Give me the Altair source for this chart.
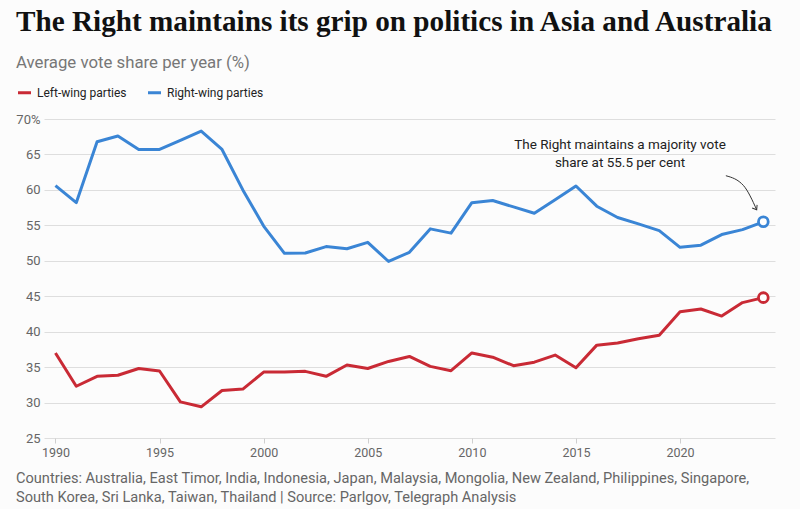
import altair as alt
import pandas as pd

years = list(range(1990, 2025))
left_wing = [37.0, 32.3, 33.7, 33.85, 34.8, 34.45, 30.1, 29.4, 31.7, 31.9,
             34.3, 34.3, 34.4, 33.7, 35.3, 34.8, 35.8, 36.5, 35.1, 34.5,
             37.0, 36.4, 35.2, 35.7, 36.7, 34.9, 38.1, 38.4, 39.0, 39.5,
             42.8, 43.2, 42.2, 44.1, 44.8]
right_wing = [60.6, 58.2, 66.8, 67.6, 65.7, 65.7, 67.0, 68.3, 65.7, 60.0,
              54.9, 51.05, 51.1, 52.0, 51.7, 52.6, 49.9, 51.2, 54.5, 53.9,
              58.2, 58.5, 57.6, 56.7, 58.6, 60.55, 57.7, 56.1, 55.2, 54.25,
              51.9, 52.2, 53.7, 54.4, 55.5]
series_names = ["Left-wing parties", "Right-wing parties"]
series_colors = ["#c92a35", "#3a85d5"]
y_ticks = [25, 30, 35, 40, 45, 50, 55, 60, 65, 70]
x_ticks = [1990, 1995, 2000, 2005, 2010, 2015, 2020]

title_text = "The Right maintains its grip on politics in Asia and Australia"
subtitle_text = "Average vote share per year (%)"
note_lines = ["The Right maintains a majority vote", "share at 55.5 per cent"]
footer_lines = [
    "Countries: Australia, East Timor, India, Indonesia, Japan, Malaysia, Mongolia, New Zealand, Philippines, Singapore,",
    "South Korea, Sri Lanka, Taiwan, Thailand | Source: Parlgov, Telegraph Analysis",
]
# annotation arrow path in data coordinates (year, value)
arrow_x = [2022.2, 2023.05, 2023.68]
arrow_y = [62.0, 60.6, 57.2]

COND = "Roboto, Noto Sans, sans-serif"
SANS = "Roboto, Noto Sans, sans-serif"
SERIF = "Liberation Serif, DejaVu Serif, serif"

rows = []
for i, y in enumerate(years):
    rows.append({"year": y, "share": left_wing[i], "series": series_names[0]})
    rows.append({"year": y, "share": right_wing[i], "series": series_names[1]})
df = pd.DataFrame(rows)
last = df[df["year"] == years[-1]]

W, H = 731, 319
xscale = alt.Scale(domain=[1989.45, 2024.56], nice=False, zero=False)
yscale = alt.Scale(domain=[25, 70], nice=False, zero=False)
color = alt.Color("series:N", scale=alt.Scale(domain=series_names, range=series_colors),
                  legend=alt.Legend(orient="none", legendX=-28, legendY=-35, direction="horizontal",
                                    title=None, symbolType="stroke", symbolStrokeWidth=3,
                                    symbolSize=170, labelFont=COND, labelFontSize=12,
                                    labelColor="#222", columnPadding=14, labelOffset=4))

x_enc = alt.X("year:Q", scale=xscale, title=None,
              axis=alt.Axis(values=x_ticks, format="d", tickCount=len(x_ticks) + 5))
y_enc = alt.Y("share:Q", scale=yscale, title=None,
              axis=alt.Axis(values=y_ticks, tickCount=len(y_ticks) + 5,
                            labelExpr="datum.value == 70 ? '70%' : datum.label"))

base = alt.Chart(df)
lines = base.mark_line(strokeWidth=3, strokeJoin="round").encode(x=x_enc, y=y_enc, color=color)
ends = alt.Chart(last).mark_point(filled=True, fill="white", strokeWidth=2.8, size=95, opacity=1).encode(
    x=alt.X("year:Q", scale=xscale), y=alt.Y("share:Q", scale=yscale),
    stroke=alt.Stroke("series:N", scale=alt.Scale(domain=series_names, range=series_colors), legend=None))

arrow_df = pd.DataFrame({"x": arrow_x, "y": arrow_y, "o": [0, 1, 2]})
arrow = alt.Chart(arrow_df).mark_line(color="#333", strokeWidth=1, interpolate="monotone").encode(
    x=alt.X("x:Q", scale=xscale), y=alt.Y("y:Q", scale=yscale), order="o:Q")
head_df = pd.DataFrame({"x": [arrow_x[-1]], "y": [arrow_y[-1]]})
head = alt.Chart(head_df).mark_point(shape="M -1 -0.75 L 0 0 L -1 0.75", filled=False, color="#333",
                                     strokeWidth=1, size=60, angle=58, opacity=1).encode(
    x=alt.X("x:Q", scale=xscale), y=alt.Y("y:Q", scale=yscale))


def txt(t, x, y, align="left", baseline="alphabetic", **kw):
    return alt.Chart(pd.DataFrame({"t": [t]})).mark_text(align=align, baseline=baseline, **kw).encode(
        x=alt.value(x), y=alt.value(y), text="t:N")


note1 = txt(note_lines[0], 576, 26, align="center", baseline="middle", font=COND, fontSize=13.5, color="#222")
note2 = txt(note_lines[1], 576, 44, align="center", baseline="middle", font=COND, fontSize=13.5, color="#222")
title = txt(title_text, -28, -88, font=SERIF, fontSize=29.2, fontWeight="bold", color="#111")
subtitle = txt(subtitle_text, -28, -51, font=SANS, fontSize=16.8, color="#777")
foot1 = txt(footer_lines[0], -28, 45 + H, font=SANS, fontSize=14.6, color="#666")
foot2 = txt(footer_lines[1], -28, 64 + H, font=SANS, fontSize=14.6, color="#666")

chart = alt.layer(lines, ends, arrow, head, note1, note2, title, subtitle, foot1, foot2).properties(
    width=W, height=H, background="#fcfcfc",
    padding={"left": 44, "top": 119, "right": 25, "bottom": 71},
    autosize=alt.AutoSizeParams(type="none")
).configure_view(stroke=None).configure_axisX(
    grid=False, domain=False, ticks=True, tickSize=5, tickColor="#cfcfcf", labelFont=COND,
    labelFontSize=12.5, labelColor="#666", labelPadding=3, labelOverlap=False
).configure_axisY(
    domain=False, ticks=False, grid=True, gridColor="#dedede", gridWidth=1, labelFont=COND,
    labelFontSize=13, labelColor="#666", labelPadding=4, labelOverlap=False, labelBound=False
)

chart.save("out.html", embed_options={"renderer": "svg", "actions": False})
